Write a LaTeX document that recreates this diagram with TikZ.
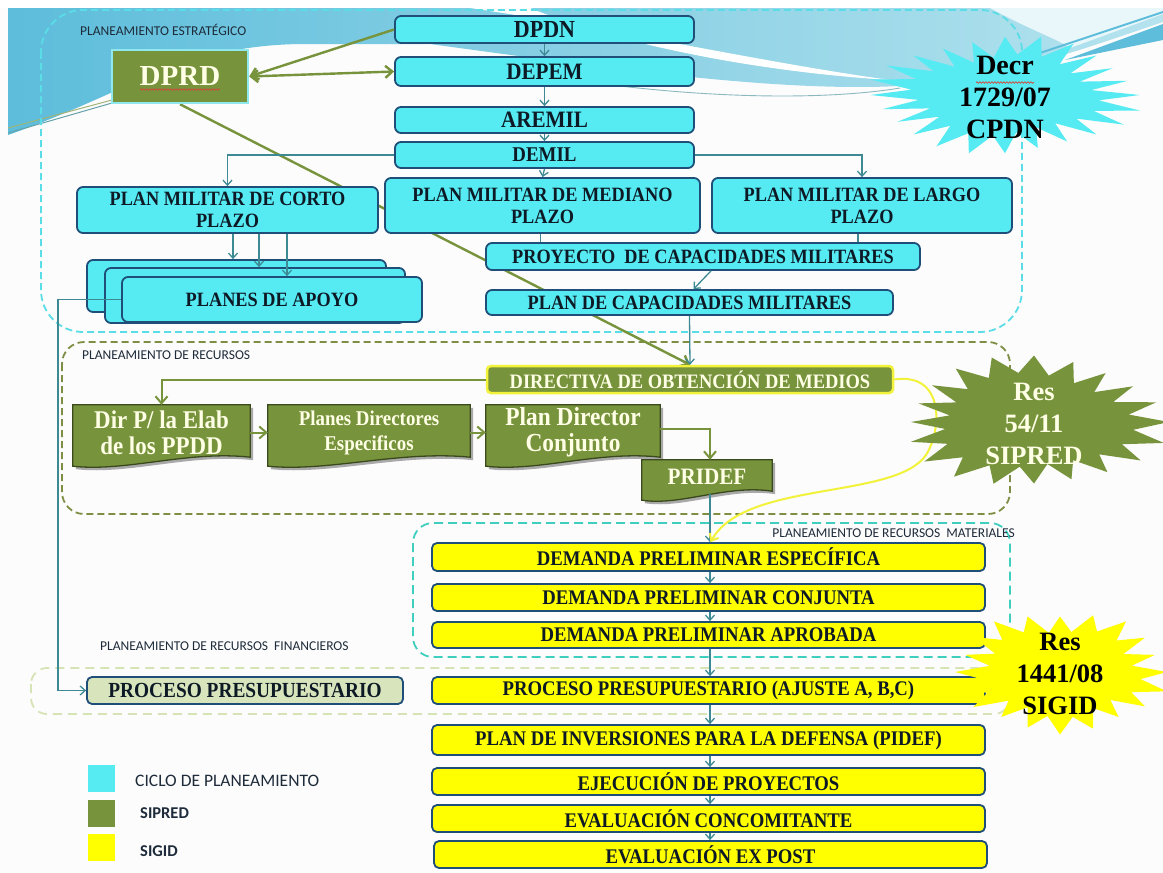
\documentclass[tikz,border=0pt]{standalone}
\usepackage{fontspec}
\setmainfont{Liberation Serif}
\newfontfamily\boxserif{Liberation Serif}[FakeStretch=0.9]
\newfontfamily\labfont{Carlito}
\usetikzlibrary{arrows.meta,calc,decorations.pathmorphing}
\pgfdeclarelayer{back}
\pgfdeclarelayer{docs}
\pgfsetlayers{back,docs,main}

\definecolor{cyanfill}{HTML}{56EBF3}
\definecolor{boxline}{HTML}{1F4E79}
\definecolor{olivefill}{HTML}{77933C}
\definecolor{olivedark}{HTML}{3A4A1C}
\definecolor{sigidfill}{HTML}{FFFF00}
\definecolor{conncol}{HTML}{3D8A94}
\definecolor{creamtext}{HTML}{FFFFE6}
\definecolor{finfill}{HTML}{D8E4BC}
\definecolor{bandA}{HTML}{5DBDDB}
\definecolor{bandB}{HTML}{B5E3EE}
\definecolor{cyandash}{HTML}{5ADDE6}
\definecolor{olivedash}{HTML}{7E8F45}
\definecolor{tealdash}{HTML}{3FCFBF}
\definecolor{findash}{HTML}{D5E3B5}
\definecolor{labtext}{HTML}{1E2B3A}
\definecolor{glowline}{HTML}{8EE8EE}
\definecolor{yelline}{HTML}{F2F23A}
\definecolor{boxtext}{HTML}{0D1A26}
\definecolor{spellred}{HTML}{D04A3A}

\newcommand\bxf[2]{\boxserif\bfseries\fontsize{#1}{#2}\selectfont}
\newcommand\wdf[2]{\bfseries\fontsize{#1}{#2}\selectfont}

% document-like shape with a wavy lower edge, drawn behind the named node
\newcommand\docshape[1]{%
  \begin{pgfonlayer}{docs}
  \fill[black!60, opacity=.55] ($(#1.north west)+(3,3)$) -- ($(#1.north east)+(3,3)$) -- ($(#1.south east)+(3,0)$)
    .. controls ($(#1.south west)!0.65!(#1.south east)+(3,-7)$) and ($(#1.south west)!0.3!(#1.south east)+(3,15)$) .. ($(#1.south west)+(3,9)$) -- cycle;
  \filldraw[fill=olivefill, draw=olivedark, line width=1.3pt] (#1.north west) -- (#1.north east) -- ($(#1.south east)+(0,-3)$)
    .. controls ($(#1.south west)!0.65!(#1.south east)+(0,-10)$) and ($(#1.south west)!0.3!(#1.south east)+(0,12)$) .. ($(#1.south west)+(0,6)$) -- cycle;
  \end{pgfonlayer}}

\begin{document}
\begin{tikzpicture}[x=1pt,y=-1pt,
  cyanbox/.style={draw=boxline, line width=1.8pt, rounded corners=6pt, fill=cyanfill, text=boxtext, align=center, inner sep=0pt, font=\bxf{20.3}{22}},
  yelbox/.style={draw=boxline, line width=1.8pt, rounded corners=5pt, fill=sigidfill, text=boxtext, align=center, inner sep=0pt, minimum width=553pt, font=\bxf{20.8}{22}},
  docnode/.style={text=creamtext, align=center, inner sep=0pt},
  lab/.style={font=\labfont\fontsize{13.5}{15}\selectfont, text=labtext, inner sep=0pt},
  legtext/.style={font=\labfont\fontsize{17.5}{19}\selectfont, text=labtext, inner sep=0pt, anchor=west},
  conn/.style={draw=conncol, line width=1.3pt, -{Straight Barb[length=5pt,width=9pt]}},
  plainconn/.style={draw=conncol, line width=1.3pt},
  oliveline/.style={draw=olivefill, line width=2.4pt, -{Straight Barb[length=7pt,width=12pt]}},
  burstfont/.style={font=\wdf{28}{32}, align=center, inner sep=0pt},
  spell/.style={draw=spellred, line width=0.7pt, decorate, decoration={snake, amplitude=0.8pt, segment length=3pt}}]

\useasboundingbox (0,0) rectangle (1163,873);

% ---------- background and theme band ----------
\begin{pgfonlayer}{back}
\fill[white!98!gray] (0,0) rectangle (1163,873);
\fill[white] (0,0) rectangle (1163,8);
\shade[left color=bandA, right color=bandB] (8,8) -- (1163,8) -- (1163,22)
  .. controls (1080,50) and (1000,80) .. (900,86)
  .. controls (780,92) and (620,70) .. (430,44) -- (300,44)
  .. controls (180,46) and (130,92) .. (8,135) -- cycle;
\fill[white] (470,8) .. controls (620,30) and (760,62) .. (890,80) .. controls (760,72) and (620,45) .. (530,8) -- cycle;
\fill[white!70!bandB] (990,8) .. controls (1030,30) and (1060,40) .. (1070,48) -- (1163,14) -- (1163,8) -- cycle;
\draw[bandA, line width=2pt] (1040,53) -- (1163,12);
\fill[bandA] (1065,60) -- (1163,24) -- (1163,40) -- cycle;
\draw[conncol!80, line width=1pt] (8,133) -- (112,103);
\draw[olivefill!70, line width=1pt] (8,128) -- (112,100);
\draw[conncol!60, line width=0.9pt] (620,86) .. controls (740,100) and (840,98) .. (900,88);

% region frames
\draw[cyandash, line width=1.8pt, dash pattern=on 7pt off 4pt, rounded corners=42pt] (41,10) rectangle (1022,332);
\draw[olivedash, line width=1.8pt, dash pattern=on 7pt off 4pt, rounded corners=22pt] (62,342) rectangle (1010,514);
\draw[tealdash, line width=1.8pt, dash pattern=on 9pt off 5pt, rounded corners=20pt] (413,523) rectangle (1010,657);
\draw[findash, line width=1.8pt, dash pattern=on 9pt off 6pt, rounded corners=16pt] (31,668) rectangle (1010,714);
\end{pgfonlayer}

% ---------- region labels ----------
\node[lab, anchor=west] (labEst) at (80,30) {PLANEAMIENTO ESTRATÉGICO};
\node[lab, anchor=west] (labRec) at (82,355) {PLANEAMIENTO DE RECURSOS};
\node[lab, anchor=east] (labMat) at (1015,533) {PLANEAMIENTO DE RECURSOS~~MATERIALES};
\node[lab, anchor=west] (labFin) at (100,646) {PLANEAMIENTO DE RECURSOS~~FINANCIEROS};

% ---------- strategic planning ----------
\node[cyanbox, minimum width=299pt, minimum height=27pt, font=\bxf{24.5}{26}] (dpdn) at (544.5,29.5) {DPDN};
\node[cyanbox, minimum width=299pt, minimum height=29pt, font=\bxf{23.5}{25}] (depem) at (544.5,71.5) {DEPEM};
\node[cyanbox, minimum width=299pt, minimum height=26pt, font=\bxf{23.5}{25}] (aremil) at (544.5,120) {AREMIL};
\node[cyanbox, minimum width=299pt, minimum height=26pt, font=\bxf{21}{23}] (demil) at (544.5,155) {DEMIL};
\node[draw=glowline, line width=2.5pt, fill=olivefill, minimum width=136pt, minimum height=53pt, text=creamtext, font=\wdf{29}{31}] (dprd) at (180,76.5) {DPRD};

\node[cyanbox, minimum width=301pt, minimum height=46pt] (corto) at (227.5,210) {PLAN MILITAR DE CORTO\\PLAZO};
\node[cyanbox, minimum width=315pt, minimum height=55pt] (mediano) at (542.5,205.5) {PLAN MILITAR DE MEDIANO\\PLAZO};
\node[cyanbox, minimum width=300pt, minimum height=55pt] (largo) at (862,205.5) {PLAN MILITAR DE LARGO\\PLAZO};
\node[cyanbox, minimum width=434pt, minimum height=27pt] (proyecto) at (703,256.5) {PROYECTO~~DE CAPACIDADES MILITARES};
\node[cyanbox, minimum width=407pt, minimum height=25pt] (plancap) at (689.5,302.5) {PLAN DE CAPACIDADES MILITARES};

\node[cyanbox, minimum width=299pt, minimum height=52pt] (apoyoA) at (236.5,286) {};
\node[cyanbox, minimum width=300pt, minimum height=55pt] (apoyoB) at (255,295.5) {};
\node[cyanbox, minimum width=300pt, minimum height=45pt] (apoyoC) at (272,299.5) {PLANES DE APOYO};

% ---------- resource planning ----------
\node[draw=yelline, line width=2.5pt, fill=olivefill, rounded corners=4pt, minimum width=406pt, minimum height=27pt, inner sep=0pt, text=creamtext, font=\bxf{20.5}{22}] (directiva) at (690,379.5) {DIRECTIVA DE OBTENCIÓN DE MEDIOS};

\node[docnode, minimum width=177pt, minimum height=55pt, font=\bxf{25.5}{26}] (dirp) at (161.5,432.5) {Dir P/ la Elab\\de los PPDD};
\docshape{dirp}
\node[docnode, minimum width=202pt, minimum height=55pt, font=\bxf{21}{25}] (pde) at (369,432.5) {Planes Directores\\Especificos};
\docshape{pde}
\node[docnode, minimum width=174pt, minimum height=55pt, font=\bxf{26}{26}] (pdc) at (573,432.5) {Plan Director\\Conjunto};
\docshape{pdc}
\node[docnode, minimum width=130pt, minimum height=34pt, font=\bxf{23.5}{25}] (pridef) at (707,477) {PRIDEF};
\docshape{pridef}

% ---------- material and financial planning ----------
\node[yelbox, minimum height=28pt] (dpe) at (708.5,557) {DEMANDA PRELIMINAR ESPECÍFICA};
\node[yelbox, minimum height=27pt] (dpc) at (708.5,597.5) {DEMANDA PRELIMINAR CONJUNTA};
\node[yelbox, minimum height=26pt] (dpa) at (708.5,635) {DEMANDA PRELIMINAR APROBADA};
\node[yelbox, minimum height=27pt] (ppa) at (708.5,690.5) {PROCESO PRESUPUESTARIO (AJUSTE A, B,C)};
\node[yelbox, minimum height=30pt] (pidef) at (708.5,740) {PLAN DE INVERSIONES PARA LA DEFENSA (PIDEF)};
\node[yelbox, minimum height=27pt] (ejec) at (708.5,781.5) {EJECUCIÓN DE PROYECTOS};
\node[yelbox, minimum height=27pt] (conc) at (708.5,818.5) {EVALUACIÓN CONCOMITANTE};
\node[yelbox, minimum height=27pt] (expost) at (710.5,854.5) {EVALUACIÓN EX POST};

\node[draw=boxline, line width=1.8pt, rounded corners=5pt, fill=finfill, minimum width=316pt, minimum height=27pt, inner sep=0pt, text=boxtext, font=\bxf{21.5}{23}] (pp) at (245,690.5) {PROCESO PRESUPUESTARIO};

% ---------- connectors ----------
\begin{pgfonlayer}{back}
\draw[oliveline] (dprd.south) -- (directiva.north);
\end{pgfonlayer}
\draw[oliveline] (dpdn.west) -- (dprd.east);
\draw[oliveline, {Straight Barb[length=7pt,width=12pt]}-{Straight Barb[length=7pt,width=12pt]}] (dprd.east) -- (depem.west);

\draw[conn] (dpdn.south) -- (depem.north);
\draw[conn] (depem.south) -- (aremil.north);
\draw[conn] (aremil.south) -- (demil.north);
\draw[conn] (demil.south) -- (mediano.north);
\draw[conn] (demil.west) -| (corto.north);
\draw[conn] (demil.east) -| (largo.north);

\draw[conn] ([xshift=5.5pt]corto.south) -- ([xshift=5.5pt]corto.south |- apoyoA.north);
\draw[conn] ([xshift=31.5pt]corto.south) -- ([xshift=31.5pt]corto.south |- apoyoB.north);
\draw[conn] ([xshift=59.5pt]corto.south) -- ([xshift=59.5pt]corto.south |- apoyoC.north);

\draw[plainconn] ([xshift=-2pt]mediano.south) -- ([xshift=-2pt]mediano.south |- proyecto.north);
\draw[plainconn] ([xshift=-4pt]largo.south) -- ([xshift=-4pt]largo.south |- proyecto.north);
\draw[conn] ([xshift=8pt]proyecto.south) -- ([xshift=4pt]plancap.north);
\draw[conn] (plancap.south) -- (directiva.north);

\draw[oliveline, line width=2pt] (directiva.west) -| (dirp.north);
\draw[oliveline, line width=2pt] (dirp.east) -- (pde.west);
\draw[oliveline, line width=2pt] (pde.east) -- (pdc.west);
\draw[oliveline, line width=2pt] ([yshift=4pt]pdc.east) -| ([xshift=3pt]pridef.north);

\draw[conn] ([xshift=3pt]pridef.south) -- ([xshift=3pt]pridef.south |- dpe.north);
\draw[yelline, line width=2pt, -{Straight Barb[length=6pt,width=10pt]}] (directiva.east)
  .. controls (945,372) and (942,430) .. (926,455)
  .. controls (895,500) and (745,480) .. ([xshift=2pt]dpe.north);

\draw[conn] ([xshift=1.5pt]dpe.south) -- ([xshift=1.5pt]dpc.north);
\draw[conn] ([xshift=1.5pt]dpc.south) -- ([xshift=1.5pt]dpa.north);
\draw[conn] ([xshift=1.5pt]dpa.south) -- ([xshift=1.5pt]ppa.north);
\draw[conn] ([xshift=1.5pt]ppa.south) -- ([xshift=1.5pt]pidef.north);
\draw[conn] ([xshift=1.5pt]pidef.south) -- ([xshift=1.5pt]ejec.north);
\draw[conn] ([xshift=1.5pt]ejec.south) -- ([xshift=1.5pt]conc.north);
\draw[conn] ([xshift=1.5pt]conc.south) -- ([xshift=-0.5pt]expost.north);

\coordinate (finbend) at (58,0);
\draw[conn] (apoyoC.west) -- (apoyoC.west -| finbend) |- (pp.west);

% ---------- legal references ----------
\fill[cyanfill] plot[domain=0:360, samples=49, variable=\t]
  ({1005+132*(1-0.33*mod(round(\t/7.5),2)+0.06*sin(4*\t+20))*cos(\t)},
   {95+57*(1-0.33*mod(round(\t/7.5),2)+0.06*sin(4*\t+20))*sin(\t)}) -- cycle;
\node[burstfont, text=black] (decr) at (1005,97) {Decr\\1729/07\\CPDN};

\fill[olivefill] plot[domain=0:360, samples=41, variable=\t]
  ({1034+129*(1-0.28*mod(round(\t/9),2)+0.06*sin(3*\t+50))*cos(\t)},
   {422+64*(1-0.28*mod(round(\t/9),2)+0.06*sin(3*\t+50))*sin(\t)}) -- cycle;
\node[burstfont, text=creamtext, font=\wdf{26.5}{32}] (res1) at (1034,424) {Res\\54/11\\SIPRED};

\fill[sigidfill] plot[domain=0:360, samples=41, variable=\t]
  ({1060+106*(1-0.28*mod(round(\t/9),2)+0.06*sin(5*\t+10))*cos(\t)},
   {672+59*(1-0.28*mod(round(\t/9),2)+0.06*sin(5*\t+10))*sin(\t)}) -- cycle;
\node[burstfont, text=black, font=\wdf{26.5}{32}] (res2) at (1060,674) {Res\\1441/08\\SIGID};

% spelling marks under abbreviations
\draw[spell] ($(dprd.center)+(-40,13)$) -- ($(dprd.center)+(40,13)$);
\draw[spell] ($(decr.north)+(-29,27)$) -- ($(decr.north)+(29,27)$);

% ---------- legend ----------
\node[fill=cyanfill, minimum width=27pt, minimum height=27pt, inner sep=0pt] (legA) at (101.5,778.5) {};
\node[fill=olivefill, minimum width=27pt, minimum height=27pt, inner sep=0pt] (legB) at (101.5,813.5) {};
\node[fill=sigidfill, minimum width=27pt, minimum height=27pt, inner sep=0pt] (legC) at (101.5,847.5) {};
\node[legtext] (legAt) at (135,781) {CICLO DE PLANEAMIENTO};
\node[legtext, font=\labfont\bfseries\fontsize{16.5}{18}\selectfont] (legBt) at (140,813) {SIPRED};
\node[legtext, font=\labfont\bfseries\fontsize{16.5}{18}\selectfont] (legCt) at (140,851) {SIGID};

\end{tikzpicture}
\end{document}
